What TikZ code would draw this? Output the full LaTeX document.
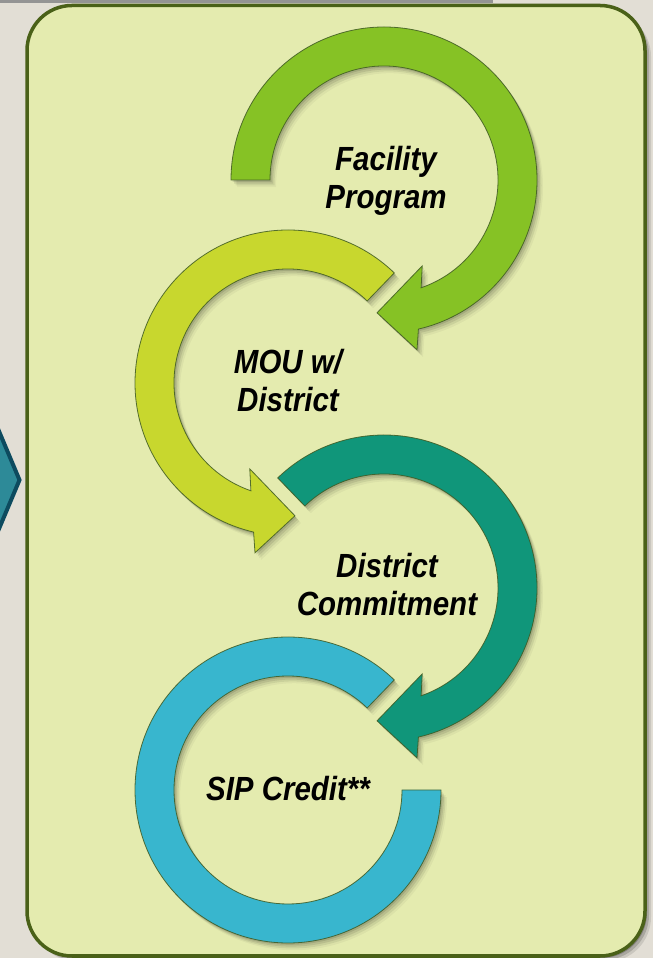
\documentclass[tikz,border=0pt]{standalone}
\usepackage{fontspec}
\setmainfont{Liberation Sans}
\newfontfamily\lblfont[FakeStretch=0.88]{Liberation Sans}
\definecolor{bgc}{HTML}{E2DED5}
\definecolor{panelc}{HTML}{E4EBAF}
\definecolor{borderc}{HTML}{4A6118}
\definecolor{cA}{HTML}{86C225}
\definecolor{cB}{HTML}{C8D72E}
\definecolor{cC}{HTML}{10967A}
\definecolor{cD}{HTML}{38B6CE}
\definecolor{edgec}{HTML}{3E5A22}
\definecolor{chevf}{HTML}{2D8A98}
\definecolor{chevd}{HTML}{0D4B5F}
\newcommand\ringCW[2]{\path[#2] (#1:153) arc[start angle=#1,end angle=-77,radius=153] -- (-79:173) -- (-93:133) -- (-66:94) -- (-71:114) arc[start angle=-71,end angle=#1,radius=114] -- cycle;}
\newcommand\ringCCW[2]{\path[#2] (#1:153) arc[start angle=#1,end angle=257,radius=153] -- (259:173) -- (273:133) -- (246:94) -- (251:114) arc[start angle=251,end angle=#1,radius=114] -- cycle;}
\newcommand\ringOpen[2]{\path[#2] (#1:153) arc[start angle=#1,end angle=360,radius=153] -- (360:114) arc[start angle=360,end angle=#1,radius=114] -- cycle;}
\begin{document}
\begin{tikzpicture}[x=1pt,y=1pt,
  lbl/.style={font=\lblfont\fontsize{33.5}{38}\selectfont\bfseries\itshape, align=center, inner sep=0pt, text=black},
  body/.style={fill=#1, draw=edgec, draw opacity=0.85, line width=0.8pt},
  shd/.style={fill=black, fill opacity=#1}]
\useasboundingbox (0,0) rectangle (653,958);
\fill[bgc] (0,0) rectangle (653,958);
% top grey rule
\fill[black!42] (0,955) rectangle (493,958);
% teal chevron on the left
\path[fill=chevf, draw=chevd, line width=4pt, line join=miter]
  (-12,553) -- (19.5,478) -- (-12,403) -- cycle;
% panel shadow
\foreach \s/\o in {2/0.22,4/0.16,6/0.10}
  \fill[black, opacity=\o, rounded corners=45pt] (27+\s,2-\s) rectangle (645+\s,952.5-\s);
% panel
\draw[fill=panelc, draw=borderc, line width=3.5pt, rounded corners=45pt] (27,2) rectangle (645,952.5);
% arrow shadows
\foreach \s/\o in {1.5/0.11,3/0.09,4.5/0.07,6/0.04}{
  \begin{scope}[shift={(384,778)}]\ringCW{180}{shd=\o, shift={(\s,-1.2*\s)}}\end{scope}
  \begin{scope}[shift={(288,575)}]\ringCCW{46}{shd=\o, shift={(\s,-1.2*\s)}}\end{scope}
  \begin{scope}[shift={(384,370)}]\ringCW{134}{shd=\o, shift={(\s,-1.2*\s)}}\end{scope}
  \begin{scope}[shift={(288,168)}]\ringOpen{46}{shd=\o, shift={(\s,-1.2*\s)}}\end{scope}
}
% arrows
\begin{scope}[shift={(384,778)}]\ringCW{180}{body=cA}\end{scope}
\begin{scope}[shift={(288,575)}]\ringCCW{46}{body=cB}\end{scope}
\begin{scope}[shift={(384,370)}]\ringCW{134}{body=cC}\end{scope}
\begin{scope}[shift={(288,168)}]\ringOpen{46}{body=cD}\end{scope}
% labels
\node[lbl] (facility) at (386,777) {Facility\\Program};
\node[lbl] (mou) at (288,577) {MOU w/\\District};
\node[lbl] (commit) at (387,373.5) {District\\Commitment};
\node[lbl] (sip) at (288,169) {SIP Credit**};
\end{tikzpicture}
\end{document}
